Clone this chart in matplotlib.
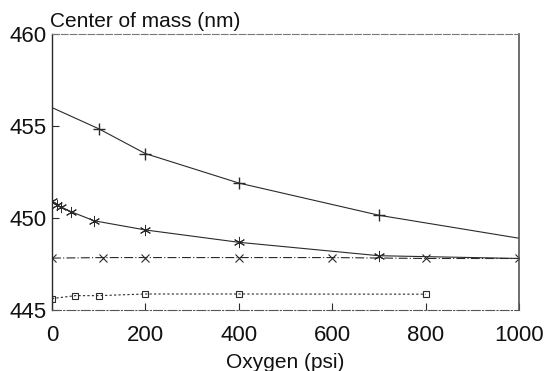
import matplotlib.pyplot as plt

# data
plus_x = [0, 100, 200, 400, 700, 1000]
plus_y = [456.0, 454.85, 453.5, 451.9, 450.15, 448.9]
plus_mark = [100, 200, 400, 700]
plus_mark_y = [454.85, 453.5, 451.9, 450.15]

star_x = [0, 10, 20, 40, 90, 200, 400, 700, 1000]
star_y = [450.9, 450.7, 450.6, 450.35, 449.85, 449.35, 448.68, 447.95, 447.8]
star_mark_x = [0, 10, 20, 40, 90, 200, 400, 700]
star_mark_y = [450.9, 450.7, 450.6, 450.35, 449.85, 449.35, 448.68, 447.95]

cross_x = [0, 110, 200, 400, 600, 800, 1000]
cross_y = [447.82, 447.85, 447.85, 447.85, 447.85, 447.8, 447.8]

square_x = [0, 50, 100, 200, 400, 800]
square_y = [445.62, 445.78, 445.78, 445.87, 445.87, 445.86]

xticks = [0, 200, 400, 600, 800, 1000]
yticks = [445, 450, 455, 460]

plt.rcParams['font.family'] = ['Liberation Sans', 'DejaVu Sans']

fig = plt.figure(figsize=(5.45, 3.71), dpi=100)
ax = fig.add_axes([0.0954, 0.1644, 0.857, 0.744])

col = '#2a2a2a'
ax.plot(plus_x, plus_y, color=col, lw=0.8)
ax.plot(plus_mark, plus_mark_y, ls='none', marker='+', ms=9, mew=1.0, color=col)

ax.plot(star_x, star_y, color=col, lw=0.8)
ax.plot(star_mark_x, star_mark_y, ls='none', marker=(6, 2, 0), ms=8, mew=0.7, color=col)

ax.plot(cross_x, cross_y, color=col, lw=0.8, ls=(0, (8, 2, 1, 2)),
        marker='x', ms=6, mew=0.8)

ax.plot(square_x, square_y, color=col, lw=0.8, ls=(0, (2, 2)),
        marker='s', ms=5, mew=0.8, mfc='none')

ax.set_xlim(0, 1000)
ax.set_ylim(445, 460)
ax.set_xticks(xticks)
ax.set_yticks(yticks)
ax.set_xticklabels([str(v) for v in xticks], fontsize=16)
ax.set_yticklabels([str(v) for v in yticks], fontsize=16)
ax.tick_params(direction='in', length=5, width=0.8, colors=col, labelcolor='#111111')
ax.tick_params(axis='x', pad=11)
ax.tick_params(axis='y', pad=4)

ax.spines['left'].set_color(col)
ax.spines['left'].set_linewidth(1.0)
ax.spines['right'].set_color('#555555')
ax.spines['right'].set_linewidth(1.2)
ax.spines['top'].set_color('#777777')
ax.spines['top'].set_linestyle((0, (6, 2)))
ax.spines['top'].set_linewidth(0.8)
ax.spines['bottom'].set_color('#555555')
ax.spines['bottom'].set_linestyle((0, (8, 2, 1, 2)))
ax.spines['bottom'].set_linewidth(0.8)

ax.set_xlabel('Oxygen (psi)', fontsize=15, color='#111111', labelpad=5)
fig.text(0.092, 0.927, 'Center of mass (nm)', fontsize=15, color='#111111',
         ha='left', va='baseline')

fig.savefig('out.png', dpi=100, facecolor='white')
